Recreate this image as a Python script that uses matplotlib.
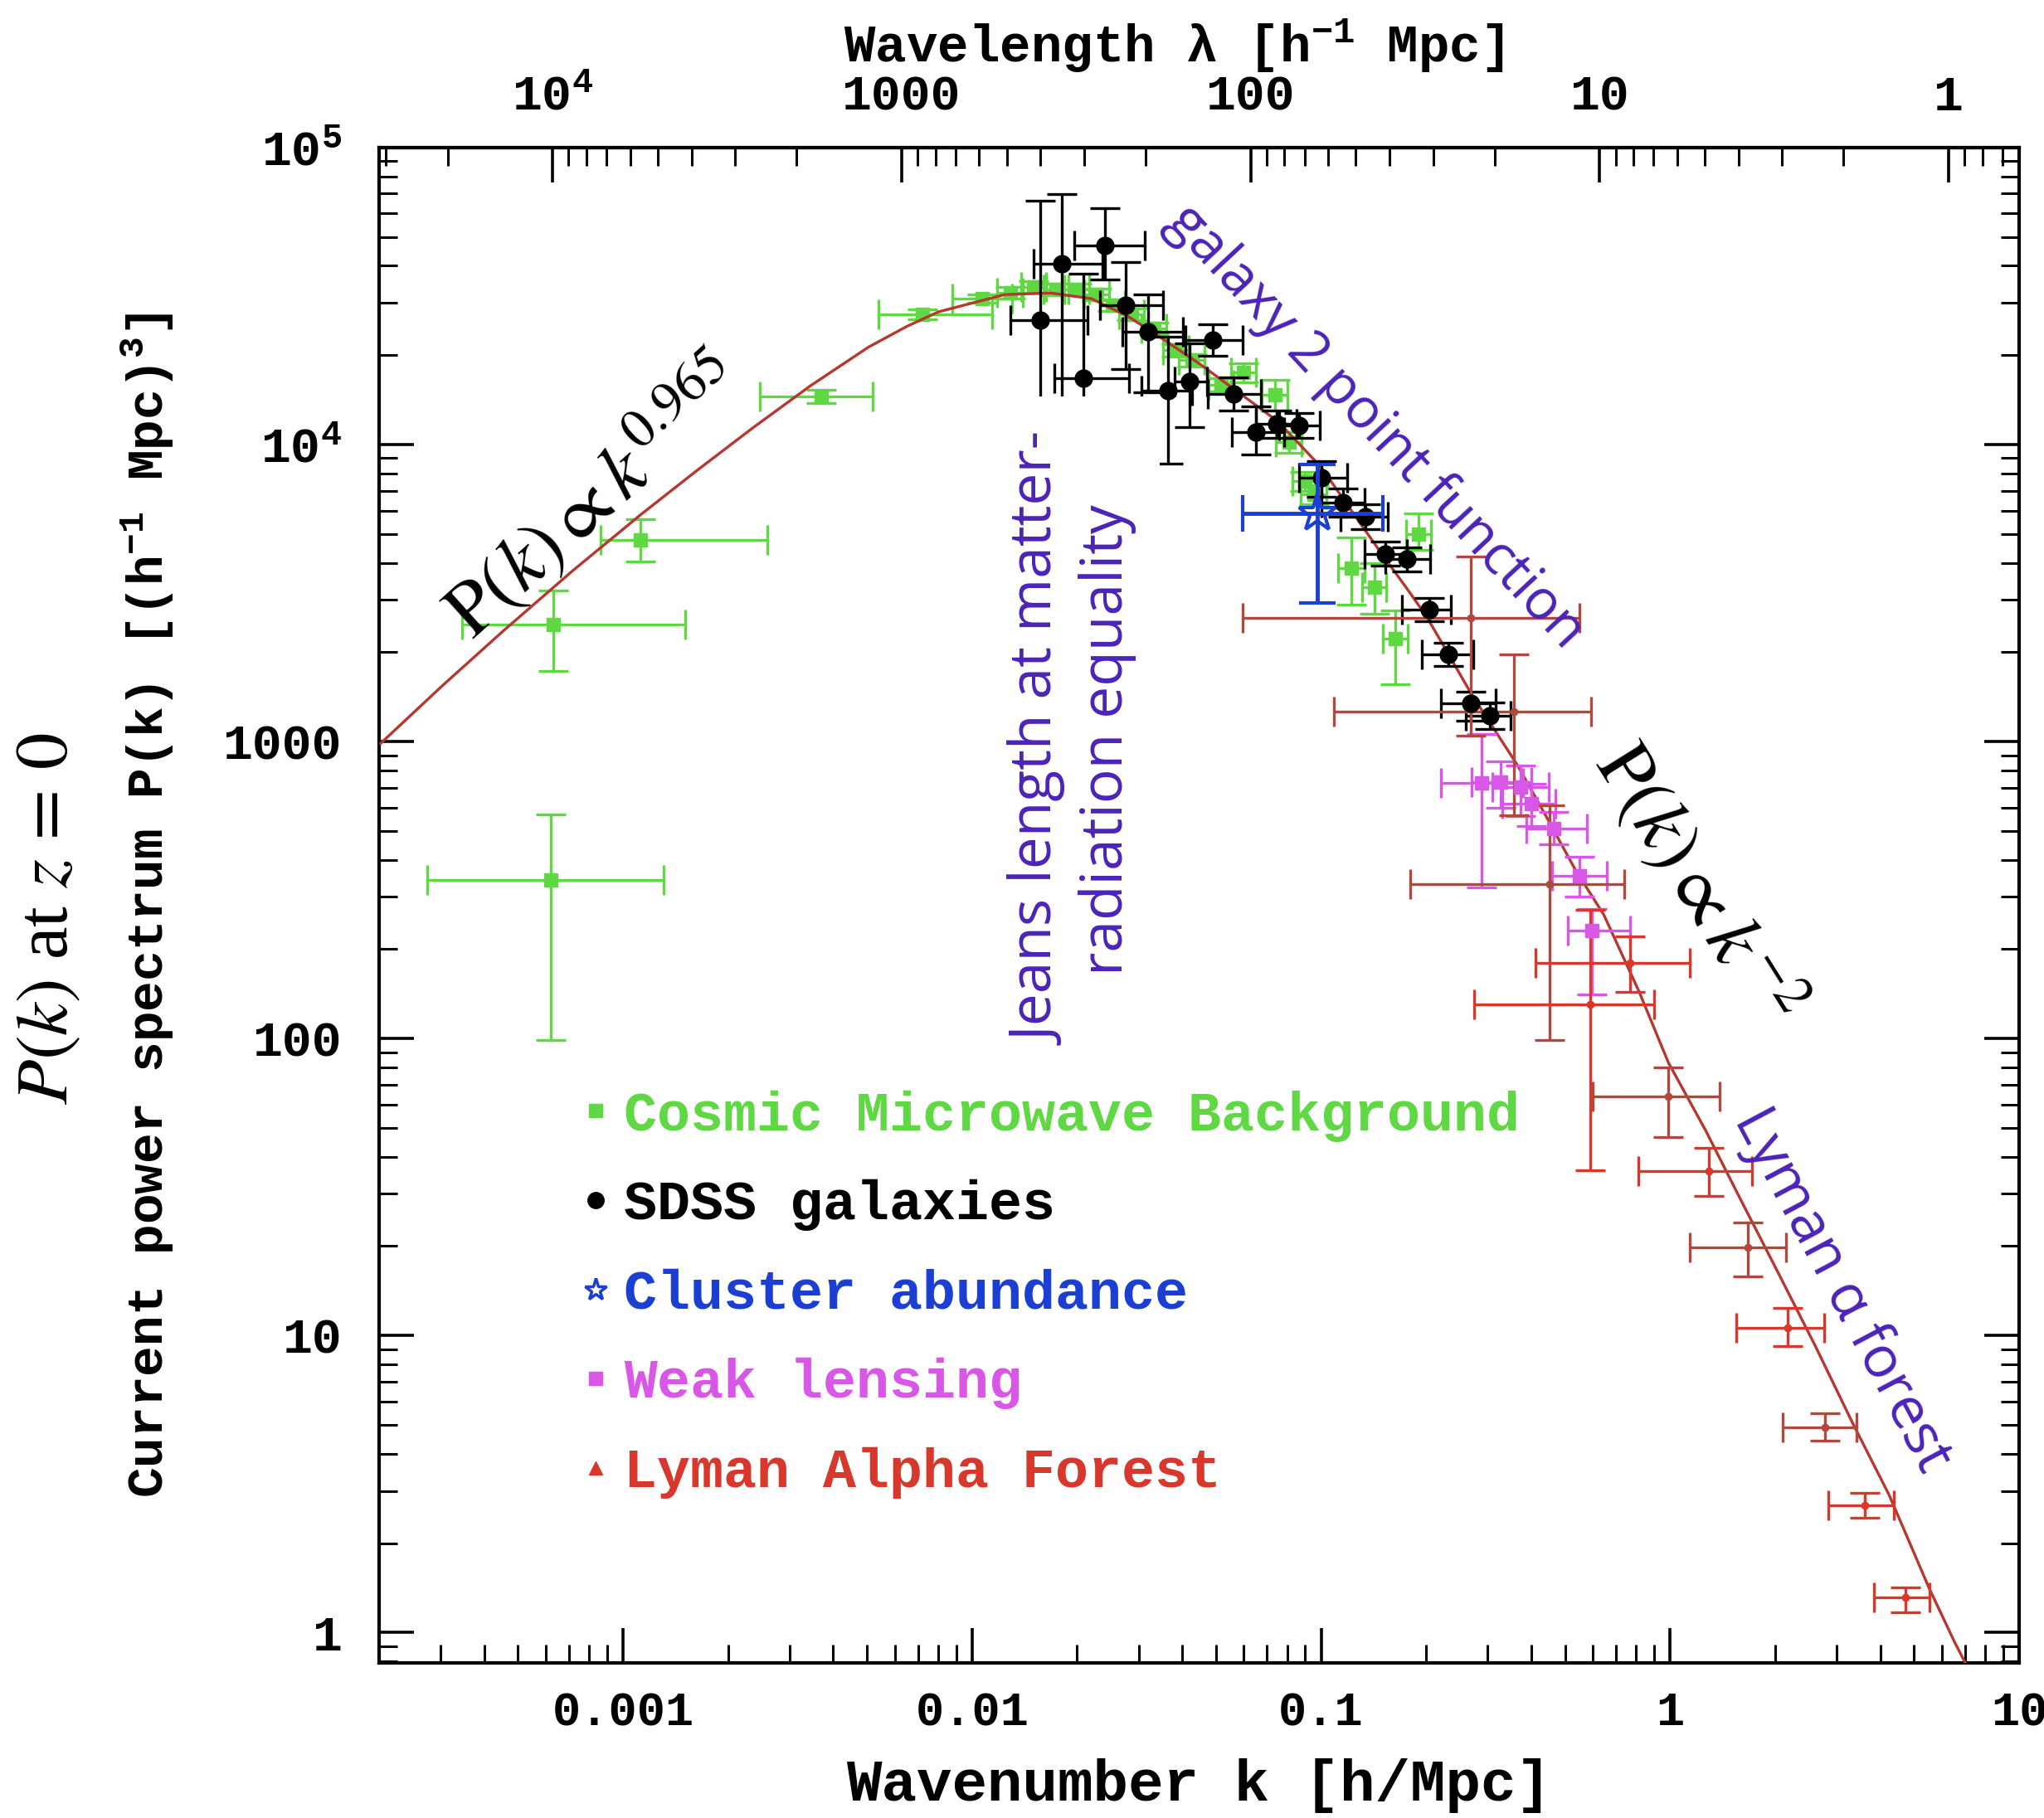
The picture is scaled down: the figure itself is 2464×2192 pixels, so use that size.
import numpy as np
import matplotlib.pyplot as plt
from matplotlib.lines import Line2D
from matplotlib.patches import Rectangle
from matplotlib.ticker import LogLocator, NullFormatter

plt.rcParams['mathtext.fontset'] = 'stix'
plt.rcParams['font.family'] = ['Liberation Mono', 'DejaVu Sans Mono']

# linear theory P(k) at z=0
curve_k = [2.02e-4, 3.04e-4, 4.57e-4, 7.16e-4, 1.123e-3, 1.621e-3, 2.337e-3, 3.44e-3, 5.05e-3,
           6.5e-3, 8.0e-3, 0.0124, 0.0168, 0.022, 0.028, 0.0346, 0.045, 0.0511, 0.075, 0.10,
           0.132, 0.15, 0.177, 0.20, 0.232, 0.269, 0.31, 0.366, 0.448, 0.536, 0.646, 0.817,
           0.989, 1.265, 1.61, 2.05, 2.61, 3.33, 4.24, 5.54, 6.56, 7.5]
curve_P = [986, 1545, 2377, 3755, 5808, 8150, 11315, 15770, 21300,
           25000, 27980, 32000, 32400, 31000, 27000, 23000, 18660, 16720, 12000, 8400,
           5260, 4250, 3250, 2650, 1965, 1452, 1122, 830, 543, 369, 261, 143,
           83, 49, 28.0, 16.1, 9.2, 5.09, 2.91, 1.40, 0.92, 0.68]

# Cosmic Microwave Background
cmb_k = [6.2e-4, 6.3e-4, 1.12e-3, 3.7e-3, 7.2e-3, 0.0107, 0.0129, 0.0150, 0.0174, 0.0200,
         0.0227, 0.0252, 0.0286, 0.0331, 0.0384, 0.0426, 0.0516, 0.060, 0.0736, 0.0808,
         0.090, 0.0952, 0.122, 0.142, 0.163, 0.190]
cmb_P = [343, 2480, 4790, 14530, 27470, 31040, 32440, 33900, 33400, 33400,
         32060, 29440, 27470, 24650, 20800, 19250, 15900, 17500, 14700, 10190,
         7540, 6800, 3850, 3300, 2220, 4980]
cmb_klo = [2.74e-4, 3.45e-4, 8.6e-4, 2.46e-3, 5.4e-3, 8.8e-3, 0.0118, 0.0138, 0.0160, 0.0184,
           0.0209, 0.0232, 0.0263, 0.0305, 0.0353, 0.0392, 0.0475, 0.0552, 0.0677, 0.0743,
           0.0828, 0.0876, 0.112, 0.131, 0.150, 0.175]
cmb_khi = [1.31e-3, 1.51e-3, 2.59e-3, 5.2e-3, 0.0114, 0.0130, 0.0140, 0.0163, 0.0189, 0.0217,
           0.0247, 0.0274, 0.0311, 0.0360, 0.0417, 0.0463, 0.0561, 0.0652, 0.0800, 0.0878,
           0.0978, 0.1035, 0.133, 0.154, 0.177, 0.207]
cmb_Plo = [99, 1726, 4030, 13800, 26500, 30000, 31000, 32400, 31900, 31900,
           30600, 28100, 26200, 23500, 19800, 18300, 15100, 16200, 13000, 9400,
           7000, 6300, 2890, 2700, 1560, 4420]
cmb_Phi = [568, 3228, 5620, 15300, 28500, 32100, 33900, 35400, 34900, 34900,
           33500, 30800, 28700, 25800, 21800, 20200, 16700, 18800, 16500, 11000,
           8100, 7300, 4860, 4000, 2773, 5870]

# SDSS galaxies
sdss_k = [0.0157, 0.0181, 0.0208, 0.0240, 0.0275, 0.0319, 0.0364, 0.0421, 0.0489, 0.0560,
          0.0649, 0.0745, 0.0867, 0.1005, 0.1153, 0.1337, 0.1525, 0.1766, 0.2047, 0.232,
          0.269, 0.305]
sdss_P = [26240, 40640, 16720, 46800, 29440, 23990, 15200, 16300, 22490, 14800,
          11020, 11750, 11590, 7730, 6370, 5720, 4280, 4120, 2780, 1964,
          1344, 1221]
sdss_klo = [0.0129, 0.0150, 0.0172, 0.0196, 0.0232, 0.0269, 0.0305, 0.0380, 0.0408, 0.0473,
            0.0555, 0.0650, 0.0760, 0.0866, 0.1000, 0.114, 0.133, 0.1525, 0.1706, 0.194,
            0.220, 0.260]
sdss_khi = [0.0214, 0.0237, 0.0281, 0.0312, 0.0353, 0.0401, 0.0426, 0.0470, 0.0595, 0.0674,
            0.0782, 0.0850, 0.0990, 0.119, 0.133, 0.155, 0.176, 0.205, 0.236, 0.273,
            0.316, 0.350]
sdss_Plo = [11000, 12000, 9000, 36000, 17950, 15000, 8630, 11450, 19900, 13000,
            9250, 10500, 10500, 6670, 5700, 5200, 3900, 3750, 2550, 1800,
            1175, 1100]
sdss_Phi = [66200, 69800, 37600, 62500, 41200, 32060, 23080, 21900, 25400, 16800,
            13440, 13000, 12800, 8790, 7100, 6300, 4700, 4500, 3050, 2150,
            1472, 1350]

# Cluster abundance
clus_k, clus_P = [0.0978], [5860]
clus_klo, clus_khi = [0.0595], [0.150]
clus_Plo, clus_Phi = [2930], [8600]

# Weak lensing
wl_k = [0.289, 0.327, 0.373, 0.401, 0.465, 0.551, 0.598]
wl_P = [724, 730, 702, 617, 509, 353, 231]
wl_klo = [0.22, 0.27, 0.31, 0.33, 0.387, 0.46, 0.51]
wl_khi = [0.38, 0.40, 0.45, 0.47, 0.578, 0.66, 0.77]
wl_Plo = [323, 600, 560, 520, 450, 300, 141]
wl_Phi = [1063, 860, 830, 720, 580, 410, 273]

# Lyman alpha forest (two sets)
lya1_k = [0.269, 0.356, 0.452, 0.989, 1.67, 2.78]
lya1_P = [2610, 1262, 331, 63.7, 19.8, 4.90]
lya1_klo = [0.0595, 0.109, 0.180, 0.600, 1.14, 2.10]
lya1_khi = [0.55, 0.594, 0.740, 1.39, 2.15, 3.43]
lya1_Plo = [1045, 564, 99, 46.5, 15.8, 4.42]
lya1_Phi = [4200, 1964, 610, 79.8, 24.0, 5.46]

lya2_k = [0.77, 0.59, 1.29, 2.17, 3.61, 4.73]
lya2_P = [180, 130, 35.7, 10.6, 2.68, 1.31]
lya2_klo = [0.412, 0.275, 0.81, 1.55, 2.84, 3.84]
lya2_khi = [1.14, 0.90, 1.72, 2.77, 4.38, 5.54]
lya2_Plo = [144, 36, 29.6, 9.2, 2.44, 1.17]
lya2_Phi = [221, 272, 42.8, 12.4, 2.96, 1.42]

legend_labels = ['Cosmic Microwave Background', 'SDSS galaxies', 'Cluster abundance',
                 'Weak lensing', 'Lyman Alpha Forest']

GREEN = '#5fd843'
BLACK = '#000000'
BLUE = '#1a3fd2'
MAGENTA = '#d957e6'
RED = '#d8382c'
DARKRED = '#b04840'
PURPLE = '#4b23b8'


def err(v, lo, hi):
    v = np.asarray(v, float)
    return np.vstack([v - np.asarray(lo, float), np.asarray(hi, float) - v])


def k_to_lam(k):
    k = np.asarray(k, float)
    with np.errstate(divide='ignore'):
        return 2 * np.pi / k


fig = plt.figure(figsize=(24.64, 21.92), dpi=100)
ax = fig.add_axes([0.1855, 0.0853, 0.8023, 0.8335])
ax.set_xscale('log')
ax.set_yscale('log')
ax.set_xlim(2e-4, 10)
ax.set_ylim(0.79, 1e5)

ebkw = dict(ls='none', elinewidth=2.4, capthick=2.4, capsize=13)
ax.errorbar(cmb_k, cmb_P, xerr=err(cmb_k, cmb_klo, cmb_khi), yerr=err(cmb_P, cmb_Plo, cmb_Phi),
            marker='s', ms=11, color=GREEN, zorder=3, **ebkw)
ax.plot(curve_k, curve_P, color='#b5372f', lw=2.4, zorder=4)
ax.errorbar(sdss_k, sdss_P, xerr=err(sdss_k, sdss_klo, sdss_khi), yerr=err(sdss_P, sdss_Plo, sdss_Phi),
            marker='o', ms=15, color=BLACK, zorder=5, **ebkw)
ax.errorbar(wl_k, wl_P, xerr=err(wl_k, wl_klo, wl_khi), yerr=err(wl_P, wl_Plo, wl_Phi),
            marker='s', ms=11, color=MAGENTA, zorder=5, **ebkw)
ax.errorbar(lya1_k, lya1_P, xerr=err(lya1_k, lya1_klo, lya1_khi), yerr=err(lya1_P, lya1_Plo, lya1_Phi),
            marker='o', ms=6, color=DARKRED, zorder=5, **ebkw)
ax.errorbar(lya2_k, lya2_P, xerr=err(lya2_k, lya2_klo, lya2_khi), yerr=err(lya2_P, lya2_Plo, lya2_Phi),
            marker='o', ms=6, color=RED, zorder=5, **ebkw)
ax.errorbar(clus_k, clus_P, xerr=err(clus_k, clus_klo, clus_khi), yerr=err(clus_P, clus_Plo, clus_Phi),
            marker='*', ms=34, mfc='none', mec=BLUE, mew=3, color=BLUE, zorder=6,
            ls='none', elinewidth=3.5, capthick=3.5, capsize=16)

# white panel behind the matter-radiation equality note
ax.add_patch(Rectangle((0.376, 0.39), 0.10, 0.446, transform=ax.transAxes,
                       facecolor='white', edgecolor='none', zorder=7))

# axes, ticks
for sp in ax.spines.values():
    sp.set_linewidth(3)
ax.set_xticks([1e-3, 1e-2, 0.1, 1, 10], labels=['0.001', '0.01', '0.1', '1', '10'])
ax.set_yticks([1, 10, 100, 1000, 1e4, 1e5],
              labels=['1', '10', '100', '1000', r'$\mathregular{10^4}$', r'$\mathregular{10^5}$'])
ax.xaxis.set_minor_locator(LogLocator(base=10, subs=np.arange(2, 10), numticks=30))
ax.yaxis.set_minor_locator(LogLocator(base=10, subs=np.arange(2, 10), numticks=30))
ax.xaxis.set_minor_formatter(NullFormatter())
ax.yaxis.set_minor_formatter(NullFormatter())
ax.tick_params(which='major', direction='in', length=30, width=2.6, top=False, right=True)
ax.tick_params(which='minor', direction='in', length=16, width=2.2, top=False, right=True)
ax.tick_params(axis='x', labelsize=41, pad=24)
ax.tick_params(axis='y', labelsize=43, pad=32)

sec = ax.secondary_xaxis('top', functions=(k_to_lam, k_to_lam))
sec.set_xticks([1e4, 1e3, 100, 10, 1],
               labels=[r'$\mathregular{10^4}$', '1000', '100', '10', '1'])
sec.xaxis.set_minor_locator(LogLocator(base=10, subs=np.arange(2, 10), numticks=30))
sec.xaxis.set_minor_formatter(NullFormatter())
sec.tick_params(which='major', direction='in', length=30, width=2.6, labelsize=43, pad=24)
sec.tick_params(which='minor', direction='in', length=16, width=2.2)
sec.spines['top'].set_linewidth(3)

for lbl in ax.get_xticklabels() + ax.get_yticklabels() + sec.get_xticklabels():
    lbl.set_fontweight('bold')

fig.text(0.574, 0.975, r'Wavelength λ [h$\mathregular{^{-1}}$ Mpc]', fontsize=45,
         fontweight='bold', ha='center', va='center')
ax.set_xlabel('Wavenumber k [h/Mpc]', fontsize=51, fontweight='bold')
ax.xaxis.set_label_coords(0.5, -0.063)
ax.set_ylabel(r'Current power spectrum P(k) [(h$\mathregular{^{-1}}$ Mpc)$\mathregular{^3}$]',
              fontsize=44, fontweight='bold')
ax.yaxis.set_label_coords(-0.124, 0.5)

fig.text(0.0244, 0.4945, r'$P(k)$ at $z\,=\,0$', rotation=90, fontsize=64,
         family='Liberation Serif', ha='center', va='center')

# annotations
ax.text(8.26e-4, 6625, r'$\mathrm{P}(k) \propto k^{0.965}$', fontsize=68, rotation=42,
        rotation_mode='anchor', ha='center', va='center', zorder=9)
ax.text(1.205, 333, r'$\mathrm{P}(k) \propto k^{-2}$', fontsize=68, rotation=-58,
        rotation_mode='anchor', ha='center', va='center', zorder=9)
note = dict(family='Open Sans', color=PURPLE, zorder=9)
ax.text(0.1435, 11450, 'galaxy 2 point function', fontsize=48, rotation=-47,
        rotation_mode='anchor', ha='center', va='center', **note)
ax.text(3.10, 14.2, 'Lyman α forest', fontsize=50, rotation=-62,
        rotation_mode='anchor', ha='center', va='center', **note)
ax.text(0.0196, 1013, 'Jeans length at matter-\nradiation equality', fontsize=50,
        rotation=90, ha='center', va='center', multialignment='center', linespacing=1.2,
        **note)

handles = [
    Line2D([], [], ls='none', marker='s', ms=12, color=GREEN),
    Line2D([], [], ls='none', marker='o', ms=14, color=BLACK),
    Line2D([], [], ls='none', marker='*', ms=20, mfc='white', mec=BLUE, mew=2.5),
    Line2D([], [], ls='none', marker='s', ms=12, color=MAGENTA),
    Line2D([], [], ls='none', marker='^', ms=12, color=RED),
]
ax.legend(handles, legend_labels, loc='upper left', bbox_to_anchor=(0.1254, 0.378),
          frameon=False, prop={'size': 48, 'weight': 'bold'}, handlelength=0.4,
          handletextpad=0.3, labelspacing=0.68, borderpad=0, borderaxespad=0,
          labelcolor=[GREEN, BLACK, BLUE, MAGENTA, RED])

fig.savefig('out.png', dpi=100, facecolor='white')
